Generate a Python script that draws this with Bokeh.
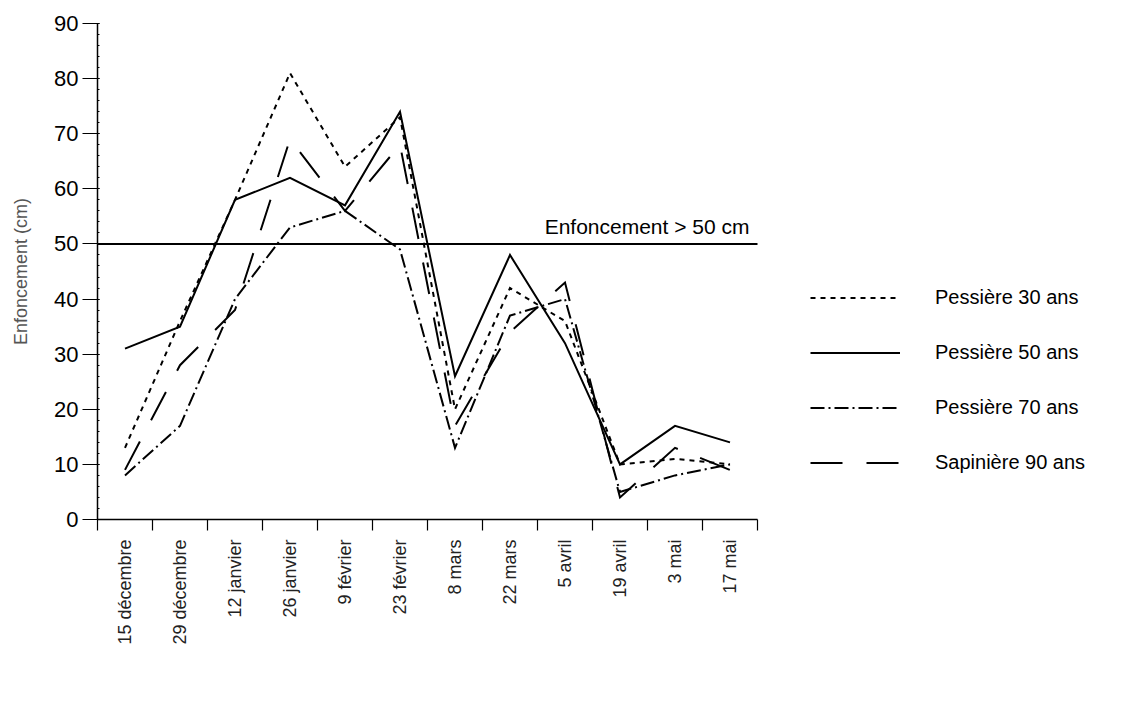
from math import pi

from bokeh.embed import file_html
from bokeh.models import FixedTicker, Label, Legend, LegendItem, Range1d
from bokeh.plotting import figure
from bokeh.resources import INLINE

# Survey dates (one category each)
dates = ["15 décembre", "29 décembre", "12 janvier", "26 janvier", "9 février",
         "23 février", "8 mars", "22 mars", "5 avril", "19 avril", "3 mai", "17 mai"]

# Snow penetration depth (cm) per stand
pessiere_30 = [13, 36, 58, 81, 64, 73, 20, 42, 36, 10, 11, 10]
pessiere_50 = [31, 35, 58, 62, 57, 74, 26, 48, 32, 10, 17, 14]
pessiere_70 = [8, 17, 40, 53, 56, 49, 13, 37, 40, 5, 8, 10]
sapiniere_90 = [9, 28, 38, 69, 56, 68, 17, 34, 43, 4, 13, 9]

series_names = ["Pessière 30 ans", "Pessière 50 ans", "Pessière 70 ans", "Sapinière 90 ans"]
threshold = 50
threshold_label = "Enfoncement > 50 cm"
y_ticks = list(range(0, 100, 10))

FONT = "Liberation Sans"

# category centres on a numeric axis, ticks drawn on the boundaries
n = len(dates)
centers = [i + 0.5 for i in range(n)]
boundaries = list(range(n + 1))

# The frame runs to the right edge so the legend can sit beside the data;
# the x axis itself is bounded to the twelve categories.
LEFT, TOP, BOTTOM = 97, 23, 189
WIDTH, HEIGHT = 1135, 708
CAT_PX = 55.0
x_end = (WIDTH - LEFT) / CAT_PX

p = figure(
    width=WIDTH, height=HEIGHT,
    x_range=Range1d(0, x_end), y_range=Range1d(0, 90),
    output_backend="svg", toolbar_location=None,
    min_border_left=LEFT, min_border_right=0,
    min_border_top=TOP, min_border_bottom=BOTTOM,
)
p.xgrid.visible = False
p.ygrid.visible = False
p.outline_line_color = None
p.background_fill_color = "white"
p.border_fill_color = "white"

# y axis
ya = p.yaxis[0]
ya.ticker = FixedTicker(ticks=y_ticks, minor_ticks=list(range(0, 91, 2)))
ya.axis_line_width = 1.5
ya.axis_line_color = "black"
ya.major_tick_out = 15
ya.major_tick_in = 2
ya.major_tick_line_width = 1.2
ya.minor_tick_in = 2
ya.minor_tick_out = 0
ya.minor_tick_line_width = 1
ya.major_label_text_font = FONT
ya.major_label_text_font_size = "22px"
ya.major_label_text_color = "black"
ya.major_label_standoff = 4
ya.axis_label = "Enfoncement (cm)"
ya.axis_label_text_font = FONT
ya.axis_label_text_font_size = "18px"
ya.axis_label_text_font_style = "normal"
ya.axis_label_text_color = "#555555"
ya.axis_label_standoff = 20

# x axis: labels on centres, ticks on boundaries
xa = p.xaxis[0]
xa.bounds = (0, n)
xa.ticker = FixedTicker(ticks=centers, minor_ticks=boundaries)
xa.major_label_overrides = {c: d for c, d in zip(centers, dates)}
xa.major_label_orientation = pi / 2
xa.major_tick_out = 0
xa.major_tick_in = 0
xa.minor_tick_out = 11
xa.minor_tick_in = 0
xa.minor_tick_line_width = 1.2
xa.axis_line_width = 1.5
xa.axis_line_color = "black"
xa.major_label_text_font = FONT
xa.major_label_text_font_size = "18px"
xa.major_label_text_color = "#222222"
xa.major_label_standoff = 9

# threshold line across the categories, with its caption
p.segment(x0=[0], x1=[n], y0=[threshold], y1=[threshold], line_color="black", line_width=2)
p.add_layout(Label(x=n, y=threshold, x_offset=-8, y_offset=6, text=threshold_label,
                   text_align="right", text_baseline="bottom", text_font=FONT,
                   text_font_size="21px", text_color="black"))

styles = [
    dict(line_dash="5 5"),
    dict(line_dash="solid"),
    dict(line_dash="14 4 2 4"),
    dict(line_dash="32 24"),
]
data = [pessiere_30, pessiere_50, pessiere_70, sapiniere_90]

items = []
for name, values, style in zip(series_names, data, styles):
    r = p.line(centers, values, line_color="black", line_width=2,
               line_join="miter", **style)
    items.append(LegendItem(label=name, renderers=[r]))

legend = Legend(
    items=items, location=(713, 44),
    glyph_width=90, glyph_height=25, label_height=25, spacing=30,
    label_standoff=35, padding=0, margin=0,
    label_text_font=FONT, label_text_font_size="20px", label_text_color="black",
    border_line_color=None, background_fill_alpha=0,
)
p.add_layout(legend)

open("out.html", "w").write(file_html(p, INLINE))
